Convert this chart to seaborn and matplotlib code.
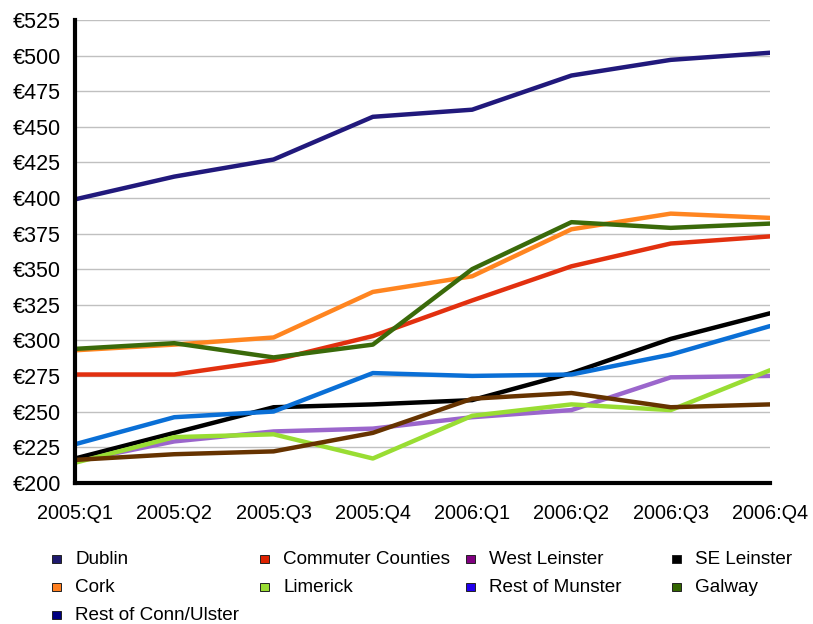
import matplotlib
matplotlib.use("Agg")
import matplotlib.pyplot as plt
from matplotlib.patches import Rectangle
import seaborn as sns
import pandas as pd

quarters = ["2005:Q1", "2005:Q2", "2005:Q3", "2005:Q4",
            "2006:Q1", "2006:Q2", "2006:Q3", "2006:Q4"]

dublin = [399, 415, 427, 457, 462, 486, 497, 502]
commuter = [276, 276, 286, 303, 328, 352, 368, 373]
west_leinster = [215, 229, 236, 238, 246, 251, 274, 275]
se_leinster = [217, 235, 253, 255, 258, 277, 301, 319]
cork = [293, 297, 302, 334, 345, 378, 389, 386]
limerick = [214, 232, 234, 217, 247, 255, 251, 279]
rest_munster = [227, 246, 250, 277, 275, 276, 290, 310]
galway = [294, 298, 288, 297, 350, 383, 379, 382]
rest_conn = [216, 220, 222, 235, 259, 263, 253, 255]

regions = ["Dublin", "Commuter Counties", "West Leinster", "SE Leinster",
           "Cork", "Limerick", "Rest of Munster", "Galway", "Rest of Conn/Ulster"]
series = [dublin, commuter, west_leinster, se_leinster, cork, limerick,
          rest_munster, galway, rest_conn]

line_colors = ["#21197c", "#e2300f", "#9b66cc", "#000000", "#ff8520",
               "#99dd33", "#0a6fd6", "#3a6a0a", "#663300"]
legend_colors = ["#1f1a6e", "#dd2200", "#800080", "#000000", "#ff7f1f",
                 "#99dd33", "#2200ee", "#336600", "#000080"]

rows = []
for name, vals in zip(regions, series):
    for i, v in enumerate(vals):
        rows.append({"region": name, "x": i, "value": v})
df = pd.DataFrame(rows)

sns.set_style("white")
plt.rcParams["font.family"] = ["Liberation Sans", "DejaVu Sans"]

fig = plt.figure(figsize=(8.13, 6.24), dpi=100)
ax = fig.add_axes([75 / 813, 1 - 482.7 / 624, (770 - 75) / 813, (482.7 - 20) / 624])

sns.lineplot(data=df, x="x", y="value", hue="region", hue_order=regions,
             palette=dict(zip(regions, line_colors)), linewidth=3.2,
             legend=False, ax=ax, sort=False)

ax.set_xlim(0, 7)
ax.set_ylim(200, 525)
yt = list(range(200, 526, 25))
ax.set_yticks(yt)
ax.set_yticklabels([f"€{v}" for v in yt], fontsize=15.5)
ax.set_xticks(range(8))
ax.set_xticklabels(quarters, fontsize=14.3)
ax.set_xlabel("")
ax.set_ylabel("")
ax.grid(axis="y", color="#c0c0c0", linewidth=1)
ax.grid(axis="x", visible=False)
ax.set_axisbelow(True)
for s in ["top", "right"]:
    ax.spines[s].set_visible(False)
for s in ["left", "bottom"]:
    ax.spines[s].set_color("black")
    ax.spines[s].set_linewidth(3)
    ax.spines[s].set_zorder(5)
ax.tick_params(axis="both", direction="out", length=7, width=3, color="black",
               pad=3, labelcolor="black")
ax.tick_params(axis="x", pad=8)

# legend, row-major in 4 fixed-width columns
col_x = [52, 260, 466, 672]
row_y = [559, 587, 615]
sq = 8.5
for k, (name, col) in enumerate(zip(regions, legend_colors)):
    r, c = divmod(k, 4)
    x0 = col_x[c]
    yc = row_y[r]
    fig.add_artist(Rectangle((x0 / 813, 1 - (yc + sq / 2) / 624), sq / 813, sq / 624,
                             facecolor=col, edgecolor="#222222", linewidth=0.7,
                             transform=fig.transFigure))
    fig.text((x0 + 23) / 813, 1 - yc / 624, name, fontsize=13.6,
             va="center", ha="left", color="black")

fig.savefig("out.png", dpi=100)
